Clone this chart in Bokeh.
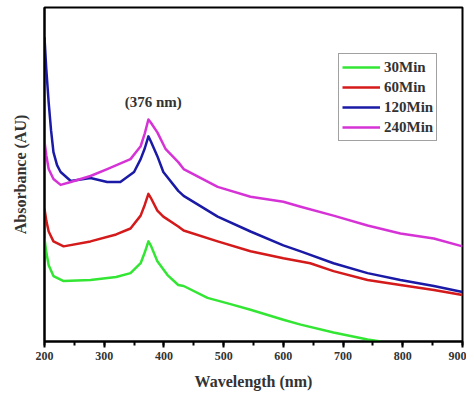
from bokeh.plotting import figure
from bokeh.models import FixedTicker, Label, Legend, LegendItem
from bokeh.embed import file_html
from bokeh.resources import INLINE

# Wavelength (nm) and absorbance (arbitrary units)
wl_30 = [200, 203, 207, 215, 232, 277, 320, 344, 361, 368, 374, 378, 389, 406, 424, 433, 473, 510, 545, 600, 629, 684, 741, 763]
ab_30 = [104, 90, 77, 66, 61, 62, 65, 69, 79, 90, 101, 97, 81, 67, 57, 56, 44, 38, 32, 22, 17, 9, 2, 0]

wl_60 = [200, 203, 207, 215, 232, 277, 320, 344, 361, 368, 374, 378, 389, 399, 424, 433, 490, 545, 600, 645, 684, 741, 796, 852, 900]
ab_60 = [134, 122, 111, 101, 96, 101, 108, 114, 127, 138, 149, 145, 132, 126, 116, 112, 101, 91, 84, 79, 71, 62, 57, 52, 47]

wl_120 = [200, 203, 207, 211, 215, 221, 227, 244, 277, 305, 327, 350, 361, 368, 374, 378, 389, 399, 424, 433, 490, 545, 600, 629, 684, 741, 796, 852, 900]
ab_120 = [307, 275, 241, 213, 191, 178, 171, 162, 165, 161, 161, 171, 184, 195, 207, 202, 187, 171, 152, 147, 126, 111, 97, 91, 79, 69, 62, 56, 50]

wl_240 = [200, 203, 207, 215, 227, 244, 277, 305, 344, 361, 368, 374, 378, 389, 403, 424, 433, 490, 545, 600, 629, 684, 741, 796, 852, 900]
ab_240 = [202, 188, 174, 164, 158, 161, 167, 174, 184, 197, 210, 224, 221, 211, 194, 181, 174, 156, 146, 141, 136, 127, 117, 109, 104, 96]

series_names = ["30Min", "60Min", "120Min", "240Min"]
series_colors = ["#33e633", "#d41a1a", "#1a1aa6", "#d633d6"]
x_ticks = [200, 300, 400, 500, 600, 700, 800, 900]
peak_label = "(376 nm)"
peak_pos = (382, 242)

SERIF = "Liberation Serif"

p = figure(width=466, height=392, output_backend="svg", toolbar_location=None,
           x_range=(200, 900), y_range=(0, 337),
           min_border_left=44, min_border_right=4, min_border_top=7, min_border_bottom=48)
p.grid.visible = False
p.outline_line_color = "black"
p.outline_line_width = 2
p.background_fill_color = "white"

xs = [wl_30, wl_60, wl_120, wl_240]
ys = [ab_30, ab_60, ab_120, ab_240]
items = []
for x, y, n, c in zip(xs, ys, series_names, series_colors):
    r = p.line(x, y, line_color=c, line_width=2.5, line_join="round")
    items.append(LegendItem(label=n, renderers=[r]))

# x axis
xa = p.xaxis[0]
xa.ticker = FixedTicker(ticks=x_ticks, minor_ticks=list(range(200, 901, 50)))
xa.axis_line_width = 2
xa.major_tick_line_width = 2
xa.minor_tick_line_width = 2
xa.major_tick_in = 0
xa.major_tick_out = 6
xa.minor_tick_in = 0
xa.minor_tick_out = 4
xa.major_label_text_font = SERIF
xa.major_label_text_font_style = "bold"
xa.major_label_text_font_size = "12px"
xa.major_label_text_color = "#333333"
xa.major_label_standoff = 4
xa.axis_label = "Wavelength (nm)"
xa.axis_label_text_font = SERIF
xa.axis_label_text_font_style = "bold"
xa.axis_label_text_font_size = "16px"
xa.axis_label_text_color = "#333333"
xa.axis_label_standoff = 10

# y axis
ya = p.yaxis[0]
ya.ticker = FixedTicker(ticks=[])
ya.axis_line_width = 2
ya.major_tick_line_color = None
ya.minor_tick_line_color = None
ya.axis_label = "Absorbance (AU)"
ya.axis_label_text_font = SERIF
ya.axis_label_text_font_style = "bold"
ya.axis_label_text_font_size = "16px"
ya.axis_label_text_color = "#333333"
ya.axis_label_standoff = 16

p.add_layout(Label(x=peak_pos[0], y=peak_pos[1], text=peak_label, text_font=SERIF,
                   text_font_style="bold", text_font_size="15px", text_color="#333333",
                   text_align="center", text_baseline="middle"))

legend = Legend(items=items, location=(294, 200))
legend.border_line_color = "#444444"
legend.border_line_width = 1.5
legend.label_text_font = SERIF
legend.label_text_font_style = "bold"
legend.label_text_font_size = "15px"
legend.label_text_color = "#333333"
legend.glyph_width = 38
legend.glyph_height = 20
legend.label_height = 20
legend.spacing = 0
legend.padding = 3
legend.margin = 0
legend.label_standoff = 4
p.add_layout(legend)

open("out.html", "w").write(file_html(p, INLINE))
